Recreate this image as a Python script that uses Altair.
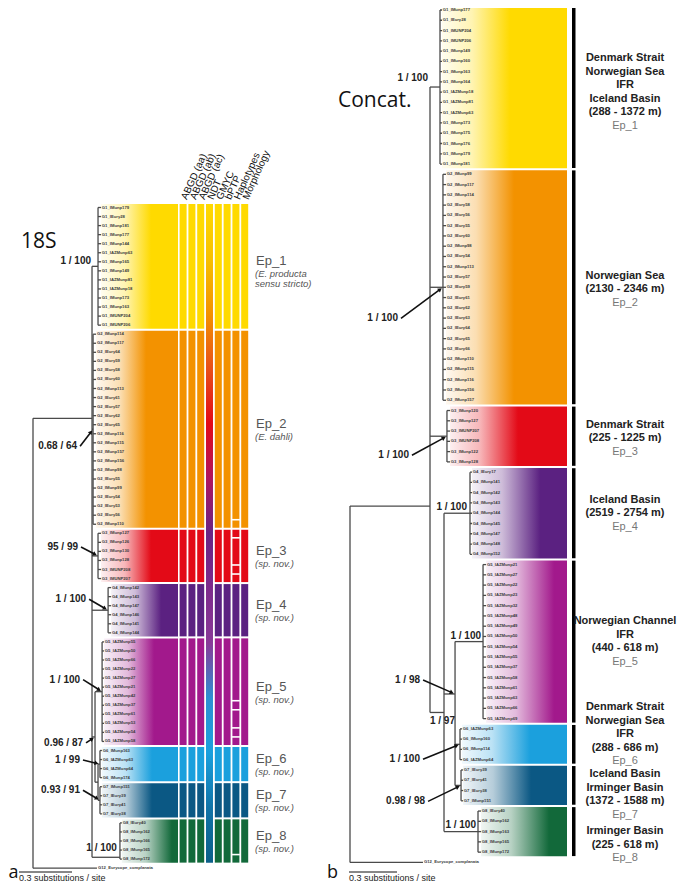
import math
import altair as alt
import pandas as pd

# ---------------- data ----------------
groups = ["Ep_1", "Ep_2", "Ep_3", "Ep_4", "Ep_5", "Ep_6", "Ep_7", "Ep_8"]
group_colors = ["#FFDA00", "#F39200", "#E30A17", "#5B2181", "#A2198C", "#1BA0DD", "#0B5884", "#12693A"]

leaves_18s = {
    "Ep_1": ["G1_IMunp179", "G1_IEury28", "G1_IMunp181", "G1_IMunp177", "G1_IMunp144", "G1_IAZMunp63",
             "G1_IMunp165", "G1_IMunp149", "G1_IAZMunp81", "G1_IAZMunp18", "G1_IMunp173", "G1_IMunp163",
             "G1_IMUNP204", "G1_IMUNP206"],
    "Ep_2": ["G2_IMunp114", "G2_IMunp117", "G2_IEury64", "G2_IEury59", "G2_IEury58", "G2_IEury60",
             "G2_IMunp113", "G2_IEury61", "G2_IEury57", "G2_IEury62", "G2_IEury65", "G2_IMunp116",
             "G2_IMunp115", "G2_IMunp157", "G2_IMunp156", "G2_IMunp98", "G2_IEury55", "G2_IMunp99",
             "G2_IEury54", "G2_IEury53", "G2_IEury56", "G2_IMunp110"],
    "Ep_3": ["G3_IMunp127", "G3_IMunp126", "G3_IMunp130", "G3_IMunp128", "G3_IMUNP208", "G3_IMUNP207"],
    "Ep_4": ["G4_IMunp142", "G4_IMunp143", "G4_IMunp147", "G4_IMunp146", "G4_IMunp141", "G4_IMunp144"],
    "Ep_5": ["G5_IAZMunp55", "G5_IAZMunp50", "G5_IAZMunp66", "G5_IAZMunp22", "G5_IAZMunp27", "G5_IAZMunp21",
             "G5_IAZMunp42", "G5_IAZMunp37", "G5_IAZMunp61", "G5_IAZMunp53", "G5_IAZMunp54", "G5_IAZMunp58"],
    "Ep_6": ["G6_IMunp163", "G6_IAZMunp63", "G6_IAZMunp64", "G6_IMunp174"],
    "Ep_7": ["G7_IMunp151", "G7_IEury39", "G7_IEury41", "G7_IEury38"],
    "Ep_8": ["G8_IEury40", "G8_IMunp162", "G8_IMunp166", "G8_IMunp165", "G8_IMunp172"],
}
leaves_concat = {
    "Ep_1": ["G1_IMunp177", "G1_IEury28", "G1_IMUNP204", "G1_IMUNP206", "G1_IMunp149", "G1_IMunp160",
             "G1_IMunp163", "G1_IMunp164", "G1_IAZMunp18", "G1_IAZMunp81", "G1_IAZMunp63", "G1_IMunp173",
             "G1_IMunp175", "G1_IMunp176", "G1_IMunp179", "G1_IMunp181"],
    "Ep_2": ["G2_IMunp99", "G2_IMunp117", "G2_IMunp114", "G2_IEury58", "G2_IEury56", "G2_IEury55",
             "G2_IEury60", "G2_IMunp98", "G2_IEury54", "G2_IMunp113", "G2_IEury57", "G2_IEury59",
             "G2_IEury61", "G2_IEury62", "G2_IEury63", "G2_IEury64", "G2_IEury65", "G2_IEury66",
             "G2_IMunp110", "G2_IMunp115", "G2_IMunp116", "G2_IMunp156", "G2_IMunp157"],
    "Ep_3": ["G3_IMunp120", "G3_IMunp127", "G3_IMUNP207", "G3_IMUNP208", "G3_IMunp122", "G3_IMunp128"],
    "Ep_4": ["G4_IEury17", "G4_IMunp141", "G4_IMunp142", "G4_IMunp143", "G4_IMunp144", "G4_IMunp145",
             "G4_IMunp147", "G4_IMunp148", "G4_IMunp152"],
    "Ep_5": ["G5_IAZMunp21", "G5_IAZMunp27", "G5_IAZMunp22", "G5_IAZMunp23", "G5_IAZMunp32", "G5_IAZMunp48",
             "G5_IAZMunp49", "G5_IAZMunp50", "G5_IAZMunp54", "G5_IAZMunp55", "G5_IAZMunp37", "G5_IAZMunp58",
             "G5_IAZMunp61", "G5_IAZMunp63", "G5_IAZMunp66", "G5_IAZMunp69"],
    "Ep_6": ["G6_IAZMunp63", "G6_IMunp160", "G6_IMunp114", "G6_IAZMunp64"],
    "Ep_7": ["G7_IEury39", "G7_IEury41", "G7_IEury38", "G7_IMunp151"],
    "Ep_8": ["G8_IEury40", "G8_IMunp162", "G8_IMunp163", "G8_IMunp165", "G8_IMunp172"],
}
outgroup_name = "G12_Eurycope_complanata"

# trees: branch lengths in substitutions / site
tree_18s = {"id": "root", "bl": 0.0, "kids": [
    {"id": "ingroup", "bl": 0.334, "kids": [
        {"id": "Ep_1", "bl": 0.034, "tip": 0.017},
        {"id": "Ep_2", "bl": 0.006, "tip": 0.017},
        {"id": "Ep_3", "bl": 0.034, "tip": 0.017},
        {"id": "Ep_4", "bl": 0.091, "tip": 0.017},
        {"id": "C567", "bl": 0.017, "kids": [
            {"id": "Ep_5", "bl": 0.040, "tip": 0.011},
            {"id": "C67", "bl": 0.017, "kids": [
                {"id": "Ep_6", "bl": 0.011, "tip": 0.011},
                {"id": "Ep_7", "bl": 0.011, "tip": 0.011}]}]},
        {"id": "Ep_8", "bl": 0.158, "tip": 0.011}]},
    {"id": "out", "bl": 0.362, "leaf": outgroup_name}]}

tree_concat = {"id": "root", "bl": 0.0, "kids": [
    {"id": "ingroup", "bl": 0.500, "kids": [
        {"id": "Ep_1", "bl": 0.0625, "tip": 0.0125},
        {"id": "Ep_2", "bl": 0.081, "tip": 0.019},
        {"id": "Ep_3", "bl": 0.106, "tip": 0.019},
        {"id": "X", "bl": 0.0875, "kids": [
            {"id": "Ep_4", "bl": 0.1625, "tip": 0.0125},
            {"id": "C567", "bl": 0.069, "kids": [
                {"id": "Ep_5", "bl": 0.175, "tip": 0.019},
                {"id": "Ep_6", "bl": 0.031, "tip": 0.0125},
                {"id": "Ep_7", "bl": 0.0375, "tip": 0.0125}]},
            {"id": "Ep_8", "bl": 0.2125, "tip": 0.019}]}]},
    {"id": "out", "bl": 0.456, "leaf": outgroup_name}]}

support_18s = {"Ep_1": "1 / 100", "Ep_2": "0.68 / 64", "Ep_3": "95 / 99", "Ep_4": "1 / 100",
               "Ep_5": "1 / 100", "C567": "0.96 / 87", "Ep_6": "1 / 99", "Ep_7": "0.93 / 91",
               "Ep_8": "1 / 100"}
support_concat = {"Ep_1": "1 / 100", "Ep_2": "1 / 100", "Ep_3": "1 / 100", "Ep_4": "1 / 100",
                  "Ep_5": "1 / 100", "C567": "1 / 98", "X": "1 / 97", "Ep_6": "1 / 100",
                  "Ep_7": "0.98 / 98", "Ep_8": "1 / 100"}

subtitles_18s = {"Ep_1": ["(E. producta", " sensu stricto)"], "Ep_2": ["(E. dahli)"],
                 "Ep_3": ["(sp. nov.)"], "Ep_4": ["(sp. nov.)"], "Ep_5": ["(sp. nov.)"],
                 "Ep_6": ["(sp. nov.)"], "Ep_7": ["(sp. nov.)"], "Ep_8": ["(sp. nov.)"]}
locations = {
    "Ep_1": ["Denmark Strait", "Norwegian Sea", "IFR", "Iceland Basin", "(288 - 1372 m)"],
    "Ep_2": ["Norwegian Sea", "(2130 - 2346 m)"],
    "Ep_3": ["Denmark Strait", "(225 - 1225 m)"],
    "Ep_4": ["Iceland Basin", "(2519 - 2754 m)"],
    "Ep_5": ["Norwegian Channel", "IFR", "(440 - 618 m)"],
    "Ep_6": ["Denmark Strait", "Norwegian Sea", "IFR", "(288 - 686 m)"],
    "Ep_7": ["Iceland Basin", "Irminger Basin", "(1372 - 1588 m)"],
    "Ep_8": ["Irminger Basin", "(225 - 618 m)"],
}
methods = ["ABGD (aa)", "ABGD (ab)", "ABGD (ac)", "NDT", "GMYC", "bPTP", "Haplotypes", "Morphology"]
haplotype_splits = {"Ep_2": [20], "Ep_3": [0, 3, 4], "Ep_5": [6, 7, 9, 10], "Ep_8": [3]}
ndt_colors = ["#FFDA00", "#F7C000", "#F39200", "#E8501A", "#E30A17", "#B0155E", "#6A2585",
              "#7E2A8C", "#8A3A98", "#2E8FD2", "#1BA0DD", "#1174A8", "#0C5F88"]
scale_bar_label = "0.3 substitutions / site"
scale_bar_value = 0.3

# ---------------- layout ----------------
PA = dict(x0=33, pps=176.7, row0=207.5, rowh=9.05, over={"ingroup": 23.3, "Ep_8": 71.8})
PB = dict(x0=350, pps=160.0, row0=10.0, rowh=10.27, over={"ingroup": 48.3, "X": 68.4, "C567": 66.6})


def layout(tree, leaves, P):
    segs, labels, nodes, gspan = [], [], {}, {}
    row = [0]

    def rec(n, xp):
        x = xp + n["bl"] * P["pps"]
        if "kids" in n:
            pts = [rec(k, x) for k in n["kids"]]
            ys = [p[1] for p in pts]
            segs.append((x, min(ys), x, max(ys)))
            for (kx, ky) in pts:
                segs.append((x, ky, kx, ky))
            y = (ys[0] + ys[-1]) / 2
            if n["id"] in P["over"]:
                y = P["row0"] + P["over"][n["id"]] * P["rowh"]
        elif "tip" in n:
            names = leaves[n["id"]]
            ys = []
            xt = x + n["tip"] * P["pps"]
            for nm in names:
                yy = P["row0"] + row[0] * P["rowh"]
                row[0] += 1
                ys.append(yy)
                segs.append((x, yy, xt, yy))
                labels.append((xt + 0.8, yy, nm))
            y = (ys[0] + ys[-1]) / 2
            if n["id"] in P["over"]:
                y = P["row0"] + P["over"][n["id"]] * P["rowh"]
            segs.append((x, min(ys[0], y), x, max(ys[-1], y)))
            gspan[n["id"]] = (ys[0] - P["rowh"] / 2, ys[-1] + P["rowh"] / 2, xt, ys)
        else:
            y = P["row0"] + row[0] * P["rowh"]
            row[0] += 1
            labels.append((x + 1, y, n["leaf"]))
        nodes[n["id"]] = (x, y, xp)
        return (x, y)

    rec(tree, P["x0"])
    return segs, labels, nodes, gspan


segA, labA, nodA, spanA = layout(tree_18s, leaves_18s, PA)
segB, labB, nodB, spanB = layout(tree_concat, leaves_concat, PB)

XS = alt.Scale(domain=[8, 677], nice=False, zero=False)
YS = alt.Scale(domain=[8, 882], nice=False, zero=False, reverse=True)


def ex(f="x"):
    return alt.X(f + ":Q", scale=XS, axis=None)


def ey(f="y"):
    return alt.Y(f + ":Q", scale=YS, axis=None)


layers = []


def mix(c, t):
    r, g, b = int(c[1:3], 16), int(c[3:5], 16), int(c[5:7], 16)
    r, g, b = [round(255 + (v - 255) * t) for v in (r, g, b)]
    return "#%02x%02x%02x" % (r, g, b)


# colored bands with horizontal gradient
def bands(span, xend, white_px, full_px):
    for g, c in zip(groups, group_colors):
        y1, y2, xt, _ = span[g]
        w = xend - xt
        df = pd.DataFrame([{"x": xt, "x2": xend, "y": y1 + 1.0, "y2": y2 - 1.0}])
        grad = {"gradient": "linear", "x1": 0, "y1": 0, "x2": 1, "y2": 0,
                "stops": [{"offset": 0, "color": mix(c, 0.06)},
                          {"offset": min(white_px / w, 0.9), "color": mix(c, 0.3)},
                          {"offset": min(full_px / w, 0.95), "color": c},
                          {"offset": 1, "color": c}]}
        layers.append(alt.Chart(df).mark_rect(fill=grad, strokeWidth=0).encode(
            x=ex(), x2="x2:Q", y=ey(), y2="y2:Q"))


bands(spanA, 178, 24, 50)
bands(spanB, 567, 30, 68)

# delimitation columns (panel a)
col_x0, col_pitch, col_w = 179.6, 8.8, 7.0
rows = []
for ci, m in enumerate(methods):
    if m == "NDT":
        continue
    for g in groups:
        y1, y2, _, _ = spanA[g]
        rows.append({"x": col_x0 + ci * col_pitch, "x2": col_x0 + ci * col_pitch + col_w,
                     "y": y1 + 1.0, "y2": y2 - 1.0, "g": g})
layers.append(alt.Chart(pd.DataFrame(rows)).mark_rect(strokeWidth=0).encode(
    x=ex(), x2="x2:Q", y=ey(), y2="y2:Q",
    color=alt.Color("g:N", scale=alt.Scale(domain=groups, range=group_colors), legend=None)))

ci = methods.index("NDT")
ytop, ybot = spanA["Ep_1"][0] + 1, spanA["Ep_8"][1] - 1
ndt_grad = {"gradient": "linear", "x1": 0, "y1": 0, "x2": 0, "y2": 1,
            "stops": [{"offset": i / (len(ndt_colors) - 1), "color": c} for i, c in enumerate(ndt_colors)]}
layers.append(alt.Chart(pd.DataFrame([{"x": col_x0 + ci * col_pitch, "x2": col_x0 + ci * col_pitch + col_w,
                                        "y": ytop, "y2": ybot}])).mark_rect(fill=ndt_grad, strokeWidth=0).encode(
    x=ex(), x2="x2:Q", y=ey(), y2="y2:Q"))

# haplotype splits
hi = methods.index("Haplotypes")
rows = []
for g, idx in haplotype_splits.items():
    ys = spanA[g][3]
    for i in idx:
        yy = ys[i] + PA["rowh"] / 2
        rows.append({"x": col_x0 + hi * col_pitch - 0.5, "x2": col_x0 + hi * col_pitch + col_w + 0.5, "y": yy})
layers.append(alt.Chart(pd.DataFrame(rows)).mark_rule(color="white", strokeWidth=1.6).encode(
    x=ex(), x2="x2:Q", y=ey()))

# black bars (panel b)
rows = []
for g in groups:
    y1, y2, _, _ = spanB[g]
    rows.append({"x": 572, "x2": 575.5, "y": y1 + 1.2, "y2": y2 - 1.2})
layers.append(alt.Chart(pd.DataFrame(rows)).mark_rect(color="black").encode(
    x=ex(), x2="x2:Q", y=ey(), y2="y2:Q"))

# tree segments
rows = [{"x": a, "y": b, "x2": c, "y2": d} for (a, b, c, d) in segA + segB]
layers.append(alt.Chart(pd.DataFrame(rows)).mark_rule(color="#4a4a4a", strokeWidth=1.3).encode(
    x=ex(), y=ey(), x2="x2:Q", y2="y2:Q"))

# leaf labels
rows = [{"x": a, "y": b, "t": t} for (a, b, t) in labA + labB]
layers.append(alt.Chart(pd.DataFrame(rows)).mark_text(
    align="left", baseline="middle", fontSize=4.2, font="Liberation Sans", fontWeight="bold",
    color="#3a3a3a").encode(x=ex(), y=ey(), text="t:N"))

# support labels
place_a = {"Ep_1": ("parent", -1, -5), "Ep_2": ("arrow", -16, 17), "Ep_3": ("arrow", -20, -9),
           "Ep_4": ("arrow", -22, -11), "Ep_5": ("arrow", -22, -12), "C567": ("arrow", -12, 6),
           "Ep_6": ("arrow", -20, -4), "Ep_7": ("arrow", -20, -10), "Ep_8": ("stem", -3, -9)}
place_b = {"Ep_1": ("parent", -2, -9), "Ep_2": ("arrow", -45, 31), "Ep_3": ("arrow", -38, 19),
           "Ep_4": ("stem", -3, -6), "Ep_5": ("stem", -2, -6), "C567": ("arrow", -35, -14),
           "X": ("stem", 11, 9), "Ep_6": ("arrow", -40, 15), "Ep_7": ("arrow", -36, 16),
           "Ep_8": ("stem", -2, -7)}
txt, arr, heads = [], [], []
for sup, place, nod in ((support_18s, place_a, nodA), (support_concat, place_b, nodB)):
    for k, t in sup.items():
        mode, dx, dy = place[k]
        x, y, xp = nod[k]
        if mode == "parent":
            txt.append({"x": xp + dx, "y": y + dy, "t": t})
        elif mode == "stem":
            txt.append({"x": x + dx, "y": y + dy, "t": t})
        else:
            lx, ly = x + dx, y + dy
            txt.append({"x": lx, "y": ly, "t": t})
            sx, sy = lx + 3, ly
            vx, vy = x - sx, y - sy
            L = math.hypot(vx, vy)
            ux, uy = vx / L, vy / L
            ex_, ey_ = x - ux * 2.0, y - uy * 2.0
            arr.append({"x": sx, "y": sy, "x2": ex_ - ux * 2, "y2": ey_ - uy * 2})
            heads.append({"x": ex_ - ux * 2.2, "y": ey_ - uy * 2.2,
                          "a": math.degrees(math.atan2(ux, -uy)) % 360})
layers.append(alt.Chart(pd.DataFrame(txt)).mark_text(
    align="right", baseline="middle", fontSize=10, font="Liberation Sans", fontWeight="bold",
    color="#222").encode(x=ex(), y=ey(), text="t:N"))
layers.append(alt.Chart(pd.DataFrame(arr)).mark_rule(color="#111", strokeWidth=1.6).encode(
    x=ex(), y=ey(), x2="x2:Q", y2="y2:Q"))
layers.append(alt.Chart(pd.DataFrame(heads)).mark_point(
    shape="triangle", filled=True, size=22, color="#111", opacity=1).encode(
    x=ex(), y=ey(), angle=alt.Angle("a:Q", scale=None)))

# Ep labels panel a
rows, rows2 = [], []
for g in groups:
    y1, y2, _, _ = spanA[g]
    yc = (y1 + y2) / 2
    rows.append({"x": 256, "y": yc - 5, "t": g})
    for i, s in enumerate(subtitles_18s[g]):
        rows2.append({"x": 255, "y": yc + 8 + i * 10, "t": s})
layers.append(alt.Chart(pd.DataFrame(rows)).mark_text(
    align="left", baseline="middle", fontSize=13, font="Liberation Sans", color="#555").encode(
    x=ex(), y=ey(), text="t:N"))
layers.append(alt.Chart(pd.DataFrame(rows2)).mark_text(
    align="left", baseline="middle", fontSize=9.5, font="Liberation Sans", fontStyle="italic",
    color="#555").encode(x=ex(), y=ey(), text="t:N"))

# column headers
rows = [{"x": col_x0 + i * col_pitch + col_w / 2 + 1, "y": 199, "t": m} for i, m in enumerate(methods)]
layers.append(alt.Chart(pd.DataFrame(rows)).mark_text(
    align="left", baseline="middle", fontSize=10, font="Liberation Sans", angle=294,
    color="#111").encode(x=ex(), y=ey(), text="t:N"))

# location labels panel b
shift_b = {"Ep_1": 5, "Ep_2": 2, "Ep_3": 2, "Ep_4": 0, "Ep_5": 0, "Ep_6": -10, "Ep_7": 9, "Ep_8": 13}
rows, rows2 = [], []
for g in groups:
    y1, y2, _, _ = spanB[g]
    lines = locations[g] + [g]
    n = len(lines)
    yc = (y1 + y2) / 2 + shift_b[g]
    for i, s in enumerate(lines):
        yy = yc + (i - (n - 1) / 2) * 13.5
        (rows2 if i == n - 1 else rows).append({"x": 625, "y": yy, "t": s})
layers.append(alt.Chart(pd.DataFrame(rows)).mark_text(
    align="center", baseline="middle", fontSize=11, font="Liberation Sans", fontWeight="bold",
    color="#222").encode(x=ex(), y=ey(), text="t:N"))
layers.append(alt.Chart(pd.DataFrame(rows2)).mark_text(
    align="center", baseline="middle", fontSize=11, font="Liberation Sans",
    color="#777").encode(x=ex(), y=ey(), text="t:N"))

# titles and panel letters
layers.append(alt.Chart(pd.DataFrame([{"x": 21, "y": 242, "t": "18S"}, {"x": 338, "y": 101, "t": "Concat."}])).mark_text(
    align="left", baseline="middle", fontSize=21, font="Open Sans", color="#111").encode(
    x=ex(), y=ey(), text="t:N"))
layers.append(alt.Chart(pd.DataFrame([{"x": 8.5, "y": 878, "t": "a"}, {"x": 327, "y": 878, "t": "b"}])).mark_text(
    align="left", baseline="alphabetic", fontSize=18, font="Open Sans", color="#111").encode(
    x=ex(), y=ey(), text="t:N"))

# scale bars
rows = []
for P, xs in ((PA, 19), (PB, 349)):
    rows.append({"x": xs, "x2": xs + scale_bar_value * P["pps"], "y": 872})
layers.append(alt.Chart(pd.DataFrame(rows)).mark_rule(color="#111", strokeWidth=1).encode(
    x=ex(), x2="x2:Q", y=ey()))
layers.append(alt.Chart(pd.DataFrame([{"x": 19, "y": 880.5, "t": scale_bar_label},
                                      {"x": 349, "y": 880.5, "t": scale_bar_label}])).mark_text(
    align="left", baseline="alphabetic", fontSize=9, font="Liberation Sans", color="#222").encode(
    x=ex(), y=ey(), text="t:N"))

chart = alt.layer(*layers).properties(
    width=669, height=874, padding=0, autosize=alt.AutoSizeParams(type="none")
).configure_view(stroke=None)

chart.save("out.html", embed_options={"renderer": "svg", "actions": False})
